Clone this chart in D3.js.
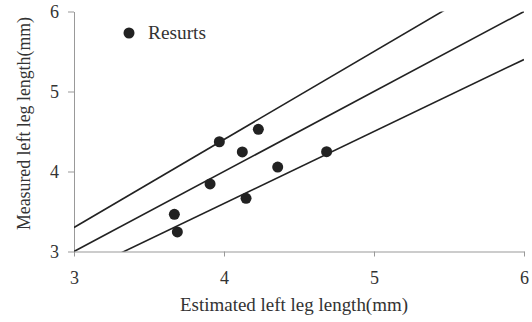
<!DOCTYPE html>
<html><head><meta charset="utf-8">
<script src="https://cdn.jsdelivr.net/npm/d3@7"></script>
<style>body{margin:0;background:#fff}svg{display:block}text{font-family:"Liberation Serif","Times New Roman",serif;fill:#333}</style>
</head><body>
<svg id="c" width="532" height="322"></svg>
<script>
const estimated = [3.969, 4.229, 4.122, 4.684, 4.358, 3.907, 4.147, 3.669, 3.689];
const measured  = [4.372, 4.527, 4.244, 4.248, 4.056, 3.844, 3.665, 3.465, 3.244];
const lineSlopes = [1.1, 1.0, 0.9];
const xTicks = [3, 4, 5, 6];
const yTicks = [3, 4, 5, 6];
const legendLabel = "Resurts";
const xTitle = "Estimated left leg length(mm)";
const yTitle = "Measured left leg length(mm)";

const FONT = '"Liberation Serif","Times New Roman",serif';
const svg = d3.select("#c");
const x = d3.scaleLinear().domain([3,6]).range([74, 524]);
const y = d3.scaleLinear().domain([3,6]).range([251.5, 11.5]);

svg.append("defs").append("clipPath").attr("id","clip")
  .append("rect").attr("x",x(3)).attr("y",y(6)).attr("width",x(6)-x(3)).attr("height",y(3)-y(6));

const xa = svg.append("g").attr("transform",`translate(0,${y(3)})`)
  .call(d3.axisBottom(x).tickValues(xTicks).tickFormat(d3.format("d")).tickSize(5).tickSizeOuter(0).tickPadding(15));
const ya = svg.append("g").attr("transform",`translate(${x(3)},0)`)
  .call(d3.axisLeft(y).tickValues(yTicks).tickFormat(d3.format("d")).tickSize(6).tickSizeOuter(0).tickPadding(9));
[xa, ya].forEach(a=>{
  a.attr("font-family",FONT).attr("font-size",18);
  a.selectAll("path,line").attr("stroke","#999");
  a.selectAll("text").attr("fill","#333");
});

const g = svg.append("g").attr("clip-path","url(#clip)");
lineSlopes.forEach(s=>{
  g.append("line").attr("x1",x(3)).attr("y1",y(3*s)).attr("x2",x(6)).attr("y2",y(6*s))
   .attr("stroke","#222").attr("stroke-width",1.6);
});

svg.append("g").selectAll("circle").data(estimated.map((e,i)=>[e,measured[i]])).join("circle")
  .attr("cx",d=>x(d[0])).attr("cy",d=>y(d[1])).attr("r",5.5).attr("fill","#222");

svg.append("circle").attr("cx",129).attr("cy",33).attr("r",5.5).attr("fill","#222");
svg.append("text").attr("x",148).attr("y",39).style("font-size","18px")
  .attr("textLength",58).attr("lengthAdjust","spacingAndGlyphs").text(legendLabel);

svg.append("text").attr("x",180).attr("y",311).style("font-size","18px")
  .attr("textLength",228).attr("lengthAdjust","spacingAndGlyphs").text(xTitle);
svg.append("text").attr("transform",`translate(30,230) rotate(-90)`).style("font-size","18px")
  .attr("textLength",213).attr("lengthAdjust","spacingAndGlyphs").text(yTitle);
</script>
</body></html>
